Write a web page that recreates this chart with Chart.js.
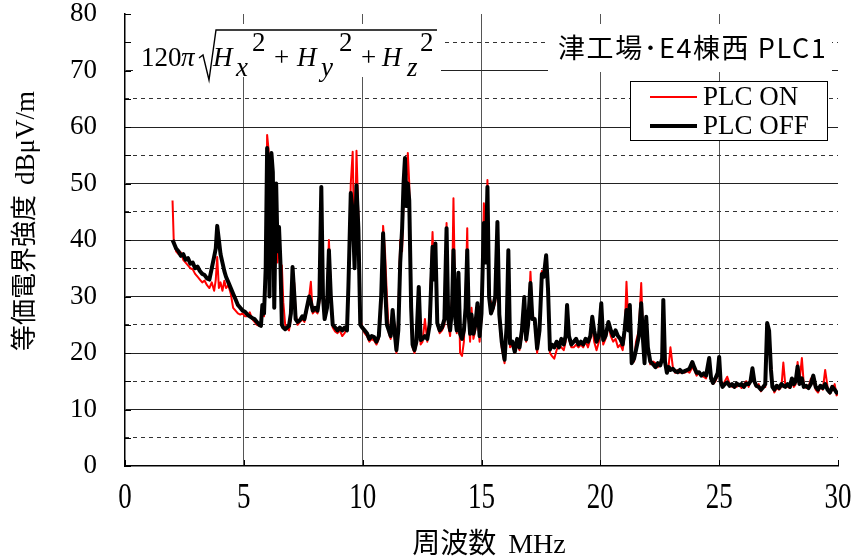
<!DOCTYPE html>
<html>
<head>
<meta charset="utf-8">
<script src="https://cdn.jsdelivr.net/npm/chart.js@4/dist/chart.umd.min.js"></script>
<style>
  body { margin: 0; background: #fff; }
  canvas { display: block; }
</style>
</head>
<body>
<canvas id="chart" width="854" height="559"></canvas>
<script>
// frequency (MHz), shared by both traces
const freqMHz = [
  2.00,2.05,2.15,2.25,2.35,2.45,2.55,2.65,2.75,2.85,2.95,
  3.05,3.15,3.25,3.35,3.45,3.55,3.65,3.75,3.82,3.88,3.95,
  4.02,4.10,4.18,4.25,4.35,4.45,4.55,4.65,4.75,4.85,4.95,
  5.05,5.15,5.25,5.35,5.45,5.55,5.65,5.72,5.78,5.85,5.92,5.98,
  6.04,6.08,6.12,6.16,6.22,6.28,6.36,6.42,6.48,6.54,6.60,6.66,6.74,6.82,6.90,6.98,
  7.05,7.12,7.18,7.26,7.36,7.46,7.55,7.65,7.75,7.82,7.90,
  8.00,8.10,8.18,8.26,8.33,8.40,8.50,8.58,8.66,8.74,8.84,8.94,
  9.04,9.14,9.24,9.34,9.40,9.50,9.58,9.66,9.74,9.82,9.90,9.98,
  10.08,10.18,10.28,10.38,10.48,10.58,10.68,10.78,10.86,10.94,11.02,
  11.10,11.18,11.26,11.34,11.42,11.50,11.58,11.66,11.72,11.78,11.84,11.90,11.96,12.04,
  12.10,12.18,12.26,12.36,12.44,12.52,12.62,12.72,12.82,12.94,13.00,13.06,
  13.14,13.24,13.34,13.44,13.53,13.60,13.68,13.76,13.82,13.90,13.96,14.03,
  14.10,14.18,14.26,14.33,14.40,14.46,14.52,14.58,14.66,14.74,14.83,14.92,
  15.00,15.10,15.18,15.25,15.32,15.40,15.48,15.58,15.67,15.75,15.85,15.97,
  16.06,16.13,16.20,16.30,16.40,16.50,16.60,16.70,16.80,16.88,16.96,
  17.06,17.14,17.24,17.34,17.44,17.54,17.62,17.72,17.80,17.88,17.96,
  18.06,18.16,18.26,18.36,18.46,18.54,18.60,18.68,18.78,18.88,18.98,
  19.08,19.18,19.28,19.38,19.48,19.58,19.66,19.74,19.84,19.94,
  20.04,20.12,20.22,20.34,20.44,20.54,20.64,20.74,20.84,20.94,
  21.02,21.10,21.18,21.24,21.32,21.42,21.50,21.62,21.72,21.80,21.86,21.93,
  22.00,22.10,22.22,22.32,22.42,22.52,22.60,22.65,22.72,22.80,22.88,22.95,
  23.05,23.15,23.25,23.35,23.45,23.55,23.65,23.75,23.87,23.95,
  24.05,24.15,24.25,24.35,24.45,24.58,24.66,24.74,24.84,24.94,25.00,
  25.06,25.14,25.24,25.34,25.44,25.54,25.64,25.74,25.84,25.94,
  26.04,26.14,26.24,26.32,26.40,26.48,26.56,26.66,26.76,26.86,26.94,
  27.02,27.10,27.18,27.24,27.32,27.42,27.52,27.62,27.70,27.78,27.88,27.98,
  28.06,28.14,28.22,28.30,28.38,28.48,28.56,28.66,28.76,28.86,28.96,
  29.06,29.16,29.26,29.36,29.46,29.56,29.66,29.76,29.86,29.94,30.00
];

// PLC OFF (black)
const plcOff = [
  40.0,39.5,38.5,38.0,37.2,37.5,36.5,36.8,35.8,36.0,35.0,
  35.3,34.5,34.0,33.8,33.2,33.0,35.0,37.0,38.5,42.5,40.0,
  37.5,36.0,34.5,33.5,32.5,31.5,30.5,29.5,28.5,28.0,27.5,
  27.3,26.8,26.5,26.2,26.0,25.5,25.0,24.8,28.5,27.0,35.0,56.3,
  48.0,30.0,45.0,55.4,52.0,28.0,50.0,38.0,42.3,36.0,25.0,24.5,24.2,24.5,24.8,27.0,
  35.2,30.5,26.0,25.5,25.8,26.5,26.0,28.0,30.0,29.0,27.5,
  28.0,27.5,30.0,49.4,30.0,26.0,28.0,38.2,30.0,25.0,24.5,24.0,
  24.5,24.0,24.5,24.0,31.7,48.3,45.0,35.0,49.7,42.0,25.0,24.5,
  24.0,23.5,22.5,23.0,22.8,22.0,23.0,30.0,41.2,32.0,25.0,
  24.0,23.0,27.6,24.0,20.5,24.0,36.0,42.0,50.0,54.5,46.0,50.0,47.0,28.0,
  21.5,20.5,22.0,31.7,22.3,22.5,23.0,22.5,25.0,38.8,33.0,39.4,
  25.3,24.0,24.5,26.0,42.1,26.0,24.0,28.0,38.2,26.0,24.0,34.2,
  23.4,22.5,24.0,28.0,38.2,27.0,23.4,26.8,23.4,25.0,28.8,23.0,
  27.0,43.0,36.0,49.4,29.9,27.0,28.0,30.0,43.2,26.8,22.0,18.8,
  25.0,38.2,21.7,22.0,20.2,22.5,21.0,24.0,29.9,22.4,25.0,
  32.4,26.0,26.0,20.8,24.0,34.0,33.5,37.3,31.2,20.6,21.5,
  21.0,22.0,21.0,22.5,21.5,23.0,28.5,23.0,21.5,22.0,22.5,
  21.5,22.0,21.5,22.5,22.0,23.0,26.4,24.0,22.0,23.0,
  28.8,22.3,23.0,25.5,24.0,23.0,24.0,23.0,22.5,21.5,
  24.0,27.6,24.0,28.5,18.2,19.0,20.5,23.0,28.8,22.0,18.2,26.4,
  21.0,18.5,18.0,17.5,18.2,17.8,19.0,29.4,18.5,16.5,17.5,17.0,
  17.2,16.8,16.6,17.0,16.6,16.8,17.0,17.2,18.4,17.5,
  16.5,16.6,16.0,16.4,16.0,19.1,15.5,14.7,15.5,16.5,19.3,
  15.0,14.0,14.5,14.8,14.2,14.5,14.0,14.6,14.3,14.5,
  14.0,14.6,14.5,15.0,17.3,15.0,14.2,14.0,13.5,14.0,14.5,
  25.3,24.0,17.0,14.0,13.5,14.2,13.8,14.5,14.2,14.0,14.5,14.0,
  15.5,14.5,15.0,17.6,14.5,15.5,14.0,14.2,13.8,14.5,16.0,
  14.0,13.5,14.2,13.8,14.5,13.5,13.0,14.0,13.5,13.0,12.8
];

// PLC ON (red)
const plcOn = [
  47.0,40.0,38.0,37.5,37.8,36.5,36.0,35.5,35.0,34.8,34.0,
  33.5,33.0,32.5,32.8,32.0,31.5,32.5,31.0,33.0,37.0,31.5,
  32.5,31.0,32.8,31.5,32.0,30.5,28.0,27.5,27.0,26.8,27.0,
  26.5,26.5,27.2,26.0,25.5,25.0,24.8,25.0,27.0,26.5,33.0,58.6,
  56.0,32.0,44.0,55.0,50.0,30.0,47.0,36.0,40.0,35.0,35.5,29.0,25.0,24.5,24.0,26.0,
  34.0,32.4,27.0,25.0,25.5,26.0,25.5,27.5,30.0,32.6,27.0,
  27.5,27.0,29.0,46.0,29.0,26.0,30.0,40.0,31.0,24.5,23.8,23.5,
  24.0,23.0,23.5,24.5,30.0,50.0,55.6,36.0,55.8,44.0,26.0,24.5,
  23.5,23.0,22.0,22.5,22.2,21.5,22.5,28.0,42.5,38.0,30.0,
  23.5,22.5,26.0,23.0,20.0,27.0,40.0,38.0,47.0,52.0,50.0,55.4,50.0,26.0,
  21.0,20.0,21.5,30.0,21.5,22.0,26.0,22.0,27.0,41.4,34.0,38.0,
  25.0,23.5,24.0,25.0,43.0,25.0,23.0,30.0,47.4,27.0,23.5,33.5,
  20.0,19.5,22.0,30.0,42.1,26.0,22.0,28.0,22.5,24.0,27.5,22.0,
  26.0,46.5,40.0,50.6,30.0,29.0,27.5,29.0,42.0,26.0,21.0,18.2,
  24.0,37.0,21.0,21.5,20.0,21.5,20.5,23.0,29.0,22.0,24.5,
  34.4,27.0,25.5,20.0,23.5,34.5,34.0,36.0,30.5,20.0,19.5,
  19.0,20.5,21.5,21.0,20.5,22.0,28.0,22.5,21.0,21.0,21.5,
  21.0,21.5,21.0,22.0,21.0,22.5,25.0,22.0,20.5,22.0,
  27.0,21.5,22.5,25.0,23.0,22.0,22.5,21.0,21.5,20.5,
  23.0,32.6,25.0,28.0,19.0,18.5,22.0,24.0,32.4,23.0,18.5,26.0,
  20.5,18.0,18.5,18.2,17.5,18.0,18.5,29.0,18.0,16.8,18.0,21.0,
  17.5,16.5,17.0,16.5,16.8,16.5,16.8,16.5,17.5,17.0,
  16.0,16.5,16.0,15.8,15.5,18.5,15.2,14.5,15.0,16.0,18.5,
  14.8,14.0,15.0,15.8,14.5,14.0,14.2,14.0,14.5,13.8,
  14.5,15.0,14.0,15.5,17.0,14.8,14.0,14.5,13.2,14.2,14.0,
  24.5,24.0,18.0,14.5,13.0,13.8,13.5,14.0,18.3,14.5,14.0,13.8,
  15.2,14.0,14.5,18.4,15.0,19.1,14.5,13.8,14.0,15.5,15.5,
  13.5,13.0,14.0,13.5,17.0,14.0,12.8,13.5,14.5,12.5,12.8
];

const xTickLabels = [0, 5, 10, 15, 20, 25, 30];
const dashedLevels = [5, 15, 25, 35, 45, 55, 65, 75];
const seriesNames = ['PLC ON', 'PLC OFF'];

const SERIF = '"Liberation Serif", "Times New Roman", serif';
const SANS = '"Noto Sans CJK JP", "Liberation Sans", sans-serif';

const toPoints = vals => freqMHz.map((f, i) => ({ x: f, y: vals[i] }));

// text, boxes, inner tick marks
const decor = {
  id: 'decor',
  afterDraw(chart) {
    const ctx = chart.ctx;
    const xs = chart.scales.x, ys = chart.scales.y;
    const a = chart.chartArea;
    ctx.save();

    // white boxes behind formula and title
    ctx.fillStyle = '#fff';
    ctx.fillRect(133, 24, 308, 53);
    ctx.fillRect(548, 24, 284, 48);

    // inner ticks
    ctx.strokeStyle = '#000';
    ctx.lineWidth = 1;
    ctx.beginPath();
    for (let v = 0; v <= 80; v += 5) {
      const y = Math.round(ys.getPixelForValue(v)) + 0.5;
      ctx.moveTo(a.left, y); ctx.lineTo(a.left + 6, y);
    }
    xTickLabels.forEach(v => {
      const x = Math.round(xs.getPixelForValue(v)) + 0.5;
      ctx.moveTo(x, a.bottom); ctx.lineTo(x, a.bottom - 6);
    });
    ctx.stroke();

    // x tick labels (tall serif digits)
    ctx.fillStyle = '#000';
    ctx.textAlign = 'center';
    ctx.textBaseline = 'alphabetic';
    ctx.font = '27px ' + SERIF;
    xTickLabels.forEach(v => {
      ctx.save();
      ctx.translate(xs.getPixelForValue(v), 508);
      ctx.scale(1, 1.35);
      ctx.fillText(String(v), 0, 0);
      ctx.restore();
    });

    // formula
    ctx.textAlign = 'left';
    ctx.font = '27px ' + SERIF;
    ctx.fillText('120', 141, 66);
    ctx.font = 'italic 27px ' + SERIF;
    ctx.fillText('\u03C0', 181, 66);
    ctx.beginPath();
    ctx.lineWidth = 1.4;
    ctx.moveTo(199, 58); ctx.lineTo(203, 55); ctx.lineTo(209, 80);
    ctx.lineTo(216, 30); ctx.lineTo(437, 30);
    ctx.stroke();
    const parts = [
      ['H', 213, 66, true], ['x', 236, 76, true], ['2', 252, 51, false], ['+', 274, 66, false],
      ['H', 297, 66, true], ['y', 321, 76, true], ['2', 339, 51, false], ['+', 361, 66, false],
      ['H', 382, 66, true], ['z', 407, 76, true], ['2', 420, 51, false]
    ];
    parts.forEach(([t, x, y, it]) => {
      ctx.font = (it ? 'italic ' : '') + '27px ' + SERIF;
      ctx.fillText(t, x, y);
    });

    // title
    ctx.font = '27px ' + SANS;
    if ('letterSpacing' in ctx) ctx.letterSpacing = '1.6px';
    ctx.fillText('津工場･E4棟西 PLC1', 558, 58);
    if ('letterSpacing' in ctx) ctx.letterSpacing = '0px';

    // legend
    ctx.fillStyle = '#fff';
    ctx.fillRect(630, 81, 197, 59);
    ctx.strokeStyle = '#000';
    ctx.lineWidth = 1;
    ctx.strokeRect(630.5, 81.5, 197, 59);
    ctx.beginPath();
    ctx.strokeStyle = '#ff0000'; ctx.lineWidth = 2;
    ctx.moveTo(650, 97); ctx.lineTo(697, 97); ctx.stroke();
    ctx.beginPath();
    ctx.strokeStyle = '#000'; ctx.lineWidth = 4;
    ctx.moveTo(650, 126); ctx.lineTo(697, 126); ctx.stroke();
    ctx.fillStyle = '#000';
    ctx.font = '27px ' + SERIF;
    ctx.fillText(seriesNames[0], 703, 105);
    ctx.fillText(seriesNames[1], 703, 134);

    // x axis title
    ctx.font = '28px ' + SANS;
    const xa = '周波数';
    const wa = ctx.measureText(xa).width;
    ctx.font = '28px ' + SERIF;
    const xb = 'MHz';
    const wb = ctx.measureText(xb).width;
    const gap = 12;
    let sx = 489 - (wa + gap + wb) / 2;
    ctx.font = '28px ' + SANS;
    ctx.fillText(xa, sx, 553);
    ctx.font = '28px ' + SERIF;
    ctx.fillText(xb, sx + wa + gap, 553);

    // y axis title
    ctx.save();
    ctx.translate(35, 221);
    ctx.rotate(-Math.PI / 2);
    ctx.font = '26px ' + SANS;
    const ya = '等価電界強度';
    const w1 = ctx.measureText(ya).width;
    ctx.font = '27px ' + SERIF;
    const yb = 'dBμV/m';
    const w2 = ctx.measureText(yb).width;
    const tot = w1 + 10 + w2;
    ctx.font = '26px ' + SANS;
    ctx.fillText(ya, -tot / 2, -2);
    ctx.font = '27px ' + SERIF;
    ctx.fillText(yb, -tot / 2 + w1 + 10, -1);
    ctx.restore();

    ctx.restore();
  }
};

window.onload = () => {
  const ctx = document.getElementById('chart').getContext('2d');
  new Chart(ctx, {
    type: 'line',
    data: {
      datasets: [
        {
          label: seriesNames[1],
          data: toPoints(plcOff),
          borderColor: '#000000',
          borderWidth: 4,
          order: 0
        },
        {
          label: seriesNames[0],
          data: toPoints(plcOn),
          borderColor: '#ff0000',
          borderWidth: 2,
          order: 1
        }
      ]
    },
    options: {
      responsive: false,
      animation: false,
      devicePixelRatio: 1,
      layout: { padding: { left: 0, right: 16, top: 14, bottom: 0 } },
      elements: {
        point: { radius: 0 },
        line: { tension: 0, fill: false, borderJoinStyle: 'round' }
      },
      plugins: {
        legend: { display: false },
        tooltip: { enabled: false }
      },
      scales: {
        x: {
          type: 'linear',
          min: 0,
          max: 30,
          ticks: { stepSize: 5, display: false },
          grid: {
            drawTicks: false,
            color: c => (c.tick.value > 0 && c.tick.value < 30) ? '#555' : 'rgba(0,0,0,0)'
          },
          border: { color: '#000', width: 1.5 },
          afterFit: s => { s.height = 93; }
        },
        y: {
          min: 0,
          max: 80,
          ticks: {
            stepSize: 10,
            color: '#000',
            padding: 28,
            font: { family: SERIF, size: 27 }
          },
          grid: {
            drawTicks: false,
            color: c => (c.tick.value > 0 && c.tick.value < 80) ? '#222' : 'rgba(0,0,0,0)'
          },
          border: { color: '#000', width: 1.5 },
          afterFit: s => { s.width = 125; s.paddingTop = 0; s.paddingBottom = 0; }
        },
        y2: {
          position: 'left',
          min: 0,
          max: 80,
          afterBuildTicks: s => { s.ticks = dashedLevels.map(v => ({ value: v })); },
          ticks: { display: false },
          grid: { drawTicks: false, color: '#333' },
          border: { display: false, dash: [4, 4] },
          afterFit: s => { s.width = 0; s.paddingTop = 0; s.paddingBottom = 0; }
        }
      }
    },
    plugins: [decor]
  });
};
</script>
</body>
</html>
